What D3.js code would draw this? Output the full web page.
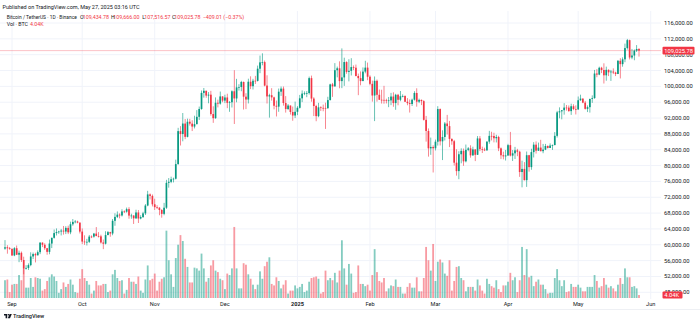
<!DOCTYPE html>
<html><head><meta charset="utf-8">
<script src="https://cdnjs.cloudflare.com/ajax/libs/d3/7.8.5/d3.min.js"></script>
<style>body{margin:0;background:#fff;overflow:hidden}svg{display:block;font-family:Roboto,"Liberation Sans",Arial,sans-serif}</style>
</head><body><svg id="c" width="700" height="323"></svg>
<script>
// Daily BTC/USDT candles (thousands of USDT), 2024-08-29 .. 2025-05-27
const startDate = "2024-08-29";
const endDate = "2025-05-27";
const opens = [59.02,59.37,59.12,58.97,57.30,59.13,57.49,57.97,56.16,53.96,54.16,54.87,57.05,57.65,57.34,58.13,60.54,60.00,59.13,58.21,60.31,61.76,62.95,63.20,63.35,63.58,63.34,64.26,63.14,65.18,65.77,65.87,65.60,63.33,60.81,60.65,60.75,62.07,62.06,62.82,62.22,62.13,60.58,60.27,62.45,63.19,62.85,66.05,67.04,67.61,67.40,68.42,68.36,69.00,67.37,67.38,66.68,68.16,66.63,67.01,67.93,69.91,72.72,72.34,70.22,69.50,69.37,68.78,67.81,69.36,75.64,75.90,76.55,76.68,80.37,88.70,87.96,90.61,87.25,91.07,90.59,89.85,90.46,92.31,94.29,98.35,98.89,97.67,97.90,93.01,91.97,95.86,95.64,97.46,96.41,97.19,95.84,95.99,98.76,96.95,99.74,99.83,101.11,97.40,96.68,101.17,100.04,101.42,101.37,104.46,106.06,106.13,100.20,97.46,97.76,97.22,95.10,94.88,98.66,99.43,95.79,94.28,95.16,93.53,92.64,93.58,94.59,96.98,98.17,98.24,98.31,102.08,96.92,95.04,92.48,94.70,94.57,94.55,94.50,96.53,100.50,99.99,104.08,104.56,101.33,102.26,106.14,103.65,103.92,104.87,104.71,102.62,102.08,101.33,103.73,104.73,102.43,100.64,97.69,101.40,97.87,96.62,96.59,96.53,96.44,96.46,97.43,95.78,97.87,96.61,97.51,97.57,96.12,95.77,95.54,96.63,98.33,96.13,96.58,96.27,91.55,88.74,84.35,84.70,84.37,86.03,94.27,86.12,87.22,90.62,89.96,86.74,86.15,80.73,78.60,82.86,83.72,81.07,83.97,84.34,82.58,84.08,82.72,86.85,84.17,84.04,83.83,86.05,87.50,87.47,86.90,87.22,84.35,82.60,82.33,82.55,85.16,82.52,83.10,83.84,83.50,78.37,79.16,76.32,82.62,79.61,83.40,85.28,83.76,84.54,83.63,84.03,84.94,84.45,85.06,85.17,87.51,93.44,93.70,93.98,94.64,94.63,93.75,94.98,94.28,94.17,96.49,96.91,95.89,94.32,94.75,96.82,97.03,103.24,102.97,104.70,104.13,102.79,104.17,103.54,103.74,103.49,103.13,106.45,105.61,106.83,109.67,111.67,107.29,107.79,109.03,109.43478];
const highs = [61.18,59.90,59.45,59.06,59.40,59.81,58.52,58.30,56.99,54.85,55.30,58.10,58.04,57.99,58.59,60.65,60.61,60.38,59.21,61.32,61.79,63.85,64.13,63.56,64.00,64.75,64.69,64.82,65.84,66.50,66.26,66.08,65.62,64.13,62.39,61.50,62.48,62.37,62.99,64.48,63.20,62.54,61.32,63.42,63.48,63.28,66.50,67.95,68.42,67.94,68.97,68.69,69.40,69.49,67.84,67.47,68.85,68.77,67.46,68.33,70.27,73.62,72.96,72.70,71.63,70.00,69.48,69.00,70.58,76.40,76.85,77.20,76.95,81.50,89.53,89.96,93.27,91.76,91.85,91.80,91.45,92.59,94.00,94.90,98.96,99.59,98.89,98.56,98.87,94.97,97.21,96.65,98.69,97.50,97.89,98.15,96.30,99.00,104.09,101.90,100.55,101.40,101.22,98.27,101.94,102.54,101.90,102.65,105.25,107.78,108.35,106.52,102.80,98.14,99.54,97.40,96.42,99.45,99.96,99.96,97.54,95.53,95.17,94.90,96.15,95.00,97.84,98.98,98.73,98.81,102.48,102.72,97.26,95.35,95.84,94.97,95.40,95.88,97.37,100.68,100.87,105.87,104.99,106.32,109.59,107.24,106.33,106.85,107.12,105.29,105.50,103.22,103.78,104.78,106.46,106.01,102.78,101.46,102.50,101.73,99.20,99.15,100.14,96.88,97.32,98.35,98.50,98.12,98.10,98.83,97.97,97.73,97.04,96.70,96.90,98.77,99.51,96.90,96.67,96.50,92.54,89.38,87.07,85.12,86.56,95.00,94.42,88.91,91.00,92.80,91.28,86.85,86.48,84.12,83.62,84.36,84.30,85.31,84.67,85.12,84.76,84.10,87.45,87.45,84.78,84.51,86.11,88.77,88.54,88.29,87.78,87.52,84.57,83.51,83.94,85.49,88.50,83.92,84.72,84.23,83.75,81.24,80.87,83.55,82.70,84.25,85.91,86.10,85.80,86.50,85.47,85.47,85.10,85.60,85.32,88.46,93.82,94.70,94.00,95.76,95.30,95.18,95.63,95.48,95.20,97.44,97.90,96.95,96.32,95.20,96.90,97.73,104.15,104.36,104.98,104.94,105.82,104.98,104.30,104.15,104.55,103.70,106.66,107.11,107.32,110.80,111.98,111.80,109.45,109.31,110.42,109.666];
const lows = [58.75,57.75,58.75,57.20,57.12,57.41,55.61,55.67,52.55,53.74,53.65,54.59,56.39,55.55,57.32,57.64,59.42,58.70,57.49,57.61,59.17,61.56,62.35,62.76,62.36,62.57,62.70,62.70,62.67,64.81,65.42,65.43,62.86,60.16,59.98,59.83,60.46,61.68,61.80,62.13,61.84,60.30,58.90,60.08,62.42,62.03,62.41,64.80,66.75,66.67,67.14,68.02,68.10,66.57,66.57,65.26,66.50,65.50,66.43,66.76,67.52,69.73,71.44,69.69,68.78,69.02,67.46,66.84,67.46,69.06,74.42,75.56,75.75,76.49,80.22,85.07,86.13,86.67,87.12,90.09,88.72,89.38,90.40,91.50,94.10,97.16,97.12,95.73,92.60,90.79,91.82,94.69,95.38,96.00,95.77,94.50,93.58,94.66,90.50,95.98,98.94,98.77,94.15,94.26,95.69,99.31,99.21,100.61,101.23,103.33,105.32,100.00,95.67,92.11,96.40,94.20,92.40,93.58,97.59,95.14,93.38,94.01,92.88,91.32,92.00,92.74,94.40,96.02,97.78,97.27,97.93,96.13,92.50,91.20,92.21,93.80,93.71,89.26,94.32,96.46,97.35,99.95,102.28,99.52,99.55,100.12,103.18,101.26,102.75,104.10,102.52,97.78,100.27,101.33,103.30,101.56,100.28,96.15,91.23,96.15,96.59,95.66,95.62,95.69,94.75,95.26,94.85,94.09,95.22,96.25,97.23,96.05,95.23,93.39,95.04,96.42,94.87,95.77,95.27,91.37,86.05,82.26,82.72,78.26,83.82,85.05,85.08,81.39,86.33,87.84,84.67,85.25,80.00,77.46,76.56,80.57,79.94,80.80,83.63,82.00,82.46,81.13,82.67,83.65,83.17,83.65,83.80,85.51,86.35,85.86,85.84,83.65,81.64,81.57,81.28,82.43,82.32,81.16,81.66,82.37,77.15,74.51,76.24,74.62,78.46,78.94,82.05,83.03,83.68,83.60,83.12,83.90,84.31,84.42,83.95,85.14,87.08,91.94,91.67,92.86,93.88,93.60,92.80,93.99,92.91,94.13,96.35,95.75,94.14,93.51,93.38,95.83,96.88,102.31,102.82,103.35,100.72,101.43,102.60,101.38,103.10,102.60,103.10,102.00,104.97,106.10,109.29,106.80,106.86,106.60,108.68,107.51657];
const closes = [59.37,59.12,58.97,57.30,59.13,57.49,57.97,56.16,53.96,54.16,54.87,57.05,57.65,57.34,58.13,60.54,60.00,59.13,58.21,60.31,61.76,62.95,63.20,63.35,63.58,63.34,64.26,63.14,65.18,65.77,65.87,65.60,63.33,60.81,60.65,60.75,62.07,62.06,62.82,62.22,62.13,60.58,60.27,62.45,63.19,62.85,66.05,67.04,67.61,67.40,68.42,68.36,69.00,67.37,67.38,66.68,68.16,66.63,67.01,67.93,69.91,72.72,72.34,70.22,69.50,69.37,68.78,67.81,69.36,75.64,75.90,76.55,76.68,80.37,88.70,87.96,90.61,87.25,91.07,90.59,89.85,90.46,92.31,94.29,98.35,98.89,97.67,97.90,93.01,91.97,95.86,95.64,97.46,96.41,97.19,95.84,95.99,98.76,96.95,99.74,99.83,101.11,97.40,96.68,101.17,100.04,101.42,101.37,104.46,106.06,106.13,100.20,97.46,97.76,97.22,95.10,94.88,98.66,99.43,95.79,94.28,95.16,93.53,92.64,93.58,94.59,96.98,98.17,98.24,98.31,102.08,96.92,95.04,92.48,94.70,94.57,94.55,94.50,96.53,100.50,99.99,104.08,104.56,101.33,102.26,106.14,103.65,103.92,104.87,104.71,102.62,102.08,101.33,103.73,104.73,102.43,100.64,97.69,101.40,97.87,96.62,96.59,96.53,96.44,96.46,97.43,95.78,97.87,96.61,97.51,97.57,96.12,95.77,95.54,96.63,98.33,96.13,96.58,96.27,91.55,88.74,84.35,84.70,84.37,86.03,94.27,86.12,87.22,90.62,89.96,86.74,86.15,80.73,78.60,82.86,83.72,81.07,83.97,84.34,82.58,84.08,82.72,86.85,84.17,84.04,83.83,86.05,87.50,87.47,86.90,87.22,84.35,82.60,82.33,82.55,85.16,82.52,83.10,83.84,83.50,78.37,79.16,76.32,82.62,79.61,83.40,85.28,83.76,84.54,83.63,84.03,84.94,84.45,85.06,85.17,87.51,93.44,93.70,93.98,94.64,94.63,93.75,94.98,94.28,94.17,96.49,96.91,95.89,94.32,94.75,96.82,97.03,103.24,102.97,104.70,104.13,102.79,104.17,103.54,103.74,103.49,103.13,106.45,105.61,106.83,109.67,111.67,107.29,107.79,109.03,109.43478,109.02578];
// Volume, thousands of BTC
const volumes = [24,25,8,18,19,19,31,24,39,14,14,27,15,28,27,26,10,12,23,28,32,29,23,7,12,21,15,19,25,18,8,7,26,39,27,23,18,6,10,23,17,17,19,19,8,10,32,38,27,23,24,6,11,27,22,22,19,29,10,7,25,44,24,26,33,10,22,26,28,91,51,32,15,54,72,85,77,53,42,21,21,41,40,37,60,40,22,27,44,51,37,35,26,24,12,33,31,40,96,40,13,13,47,45,32,26,18,12,18,36,26,43,49,55,19,17,28,23,13,18,24,6,10,10,17,13,15,19,8,10,22,27,28,29,26,6,8,37,24,27,24,34,21,37,78,40,18,46,33,7,8,44,19,19,16,18,10,31,66,35,23,21,27,9,13,17,16,25,15,15,6,6,15,20,14,14,28,9,9,27,69,51,37,73,23,49,52,48,33,30,51,10,23,42,43,27,24,9,15,15,15,10,25,17,10,6,26,19,16,14,24,12,8,17,17,22,34,24,28,8,24,69,31,66,28,30,16,22,25,18,18,12,6,7,7,27,39,24,16,24,8,9,19,15,15,18,14,9,9,15,15,15,31,23,14,16,27,18,14,16,13,9,18,27,19,40,28,28,15,16,13,4.04];
const priceTicks = [48,52,56,60,64,68,72,76,80,84,88,92,96,100,104,108,112,116];
const monthDates = ["2024-09-01","2024-10-01","2024-11-01","2024-12-01","2025-01-01","2025-02-01","2025-03-01","2025-04-01","2025-05-01","2025-06-01"];
const monthLabels = ["Sep","Oct","Nov","Dec","2025","Feb","Mar","Apr","May","Jun"];

const n = closes.length;
if (opens.length!==n||highs.length!==n||lows.length!==n||volumes.length!==n) throw new Error("len "+[opens.length,highs.length,lows.length,closes.length,volumes.length].join(","));

const parse = d3.utcParse("%Y-%m-%d");
const dates = d3.utcDay.range(parse(startDate), d3.utcDay.offset(parse(endDate),1));
if (dates.length!==n) throw new Error("dates "+dates.length+" vs "+n);

const UP="#089981", DN="#f23645", TXT="#131722";
const svg = d3.select("#c");
const plotR = 661;
const x = d3.scaleUtc().domain([parse(startDate), parse(endDate)]).range([5, 639]);
const y = d3.scaleLinear().domain([48,116]).range([292.3,23]);
const yv = d3.scaleLinear().domain([0,100]).range([298,224]);
const fmt = d3.format(",.2f");

// grid
const g = svg.append("g");
g.selectAll("line.h").data(priceTicks).join("line")
  .attr("x1",0).attr("x2",plotR).attr("y1",d=>y(d)).attr("y2",d=>y(d))
  .attr("stroke","#f0f3fa").attr("stroke-width",1);
g.selectAll("line.v").data(monthDates).join("line")
  .attr("x1",d=>x(parse(d))).attr("x2",d=>x(parse(d))).attr("y1",11).attr("y2",299)
  .attr("stroke","#f0f3fa").attr("stroke-width",1);

const idx = d3.range(n);
const col = i => closes[i] >= opens[i] ? UP : DN;

// volume
svg.append("g").selectAll("rect").data(idx).join("rect")
  .attr("x",i=>x(dates[i])-0.9).attr("width",1.8)
  .attr("y",i=>yv(volumes[i])).attr("height",i=>yv(0)-yv(volumes[i]))
  .attr("fill",col).attr("fill-opacity",0.5);

// price line
const lastY = y(closes[n-1]);
svg.append("line").attr("x1",0).attr("x2",plotR).attr("y1",lastY).attr("y2",lastY)
  .attr("stroke",DN).attr("stroke-opacity",0.3).attr("stroke-width",1);

// candles
const cg = svg.append("g");
cg.selectAll("rect.w").data(idx).join("rect")
  .attr("x",i=>x(dates[i])-0.4).attr("width",0.8)
  .attr("y",i=>y(highs[i])).attr("height",i=>y(lows[i])-y(highs[i]))
  .attr("fill",col).attr("fill-opacity",0.75);
cg.selectAll("rect.b").data(idx).join("rect")
  .attr("x",i=>x(dates[i])-0.85).attr("width",1.7)
  .attr("y",i=>y(Math.max(opens[i],closes[i])))
  .attr("height",i=>Math.max(0.7, Math.abs(y(opens[i])-y(closes[i]))))
  .attr("fill",col);

// price axis labels
svg.append("g").selectAll("text").data(priceTicks).join("text")
  .attr("x",664).attr("y",d=>y(d)).attr("dy","0.35em")
  .attr("font-size",5.8).attr("fill",TXT).text(d=>fmt(d*1000));

// time axis labels
svg.append("g").selectAll("text").data(monthDates).join("text")
  .attr("x",d=>x(parse(d))).attr("y",304).attr("dy","0.35em").attr("text-anchor","middle")
  .attr("font-size",5.6).attr("fill",TXT)
  .attr("font-weight",(d,i)=>monthLabels[i]==="2025"?"bold":"normal")
  .text((d,i)=>monthLabels[i]);

svg.append("line").attr("x1",0).attr("x2",700).attr("y1",309.5).attr("y2",309.5)
  .attr("stroke","#eef0f4").attr("stroke-width",1);

// last price box
svg.append("rect").attr("x",662.5).attr("y",lastY-3.8).attr("width",32).attr("height",7.6).attr("rx",1).attr("fill",DN);
svg.append("text").attr("x",664.3).attr("y",lastY).attr("dy","0.35em").attr("font-size",5.8).attr("fill","#fff").text(fmt(closes[n-1]*1000));
// last volume box
const vY = yv(volumes[n-1]);
svg.append("rect").attr("x",662.5).attr("y",vY-3.5).attr("width",20).attr("height",7).attr("rx",1).attr("fill",DN);
svg.append("text").attr("x",664.3).attr("y",vY).attr("dy","0.35em").attr("font-size",5.8).attr("fill","#fff").text(d3.format(".2f")(volumes[n-1])+"K");

// header
svg.append("text").attr("x",2.5).attr("y",6.7).attr("dy","0.35em").attr("font-size",5.5).attr("fill",TXT)
  .text("Published on TradingView.com, May 27, 2025 03:16 UTC");
const l = n-1;
const legend = [
  [6.7,"Bitcoin / TetherUS · 1D · Binance",TXT,4.9],
  [80,"O",TXT,5.3],[82.7,fmt(opens[l]*1000),DN,5.3],
  [111,"H",TXT,5.3],[113.3,fmt(highs[l]*1000),DN,5.3],
  [142.3,"L",TXT,5.3],[144.3,fmt(lows[l]*1000),DN,5.3],
  [172,"C",TXT,5.3],[174.3,fmt(closes[l]*1000),DN,5.3],
  [202.7,"−409.01 (−0.37%)",DN,5.3]
];
svg.append("g").selectAll("text").data(legend).join("text")
  .attr("x",d=>d[0]).attr("y",17.3).attr("dy","0.35em").attr("font-size",d=>d[3]).attr("fill",d=>d[2]).text(d=>d[1]);
const legend2 = [[6.7,"Vol · BTC",TXT],[30,d3.format(".2f")(volumes[l])+"K",DN]];
svg.append("g").selectAll("text").data(legend2).join("text")
  .attr("x",d=>d[0]).attr("y",24.3).attr("dy","0.35em").attr("font-size",5.3).attr("fill",d=>d[2]).text(d=>d[1]);

// TradingView logo
const lg = svg.append("g").attr("transform","translate(4,314)").attr("fill",TXT);
lg.append("path").attr("d","M0,0H3.2V4.2H1.6V1.5H0Z");
lg.append("circle").attr("cx",4.4).attr("cy",0.8).attr("r",0.8);
lg.append("path").attr("d","M5.6,0H7.8L6,4.2H3.8Z");
svg.append("text").attr("x",13).attr("y",316.2).attr("dy","0.35em").attr("font-size",5.6).attr("font-weight",500).attr("fill",TXT).text("TradingView");
</script></body></html>
